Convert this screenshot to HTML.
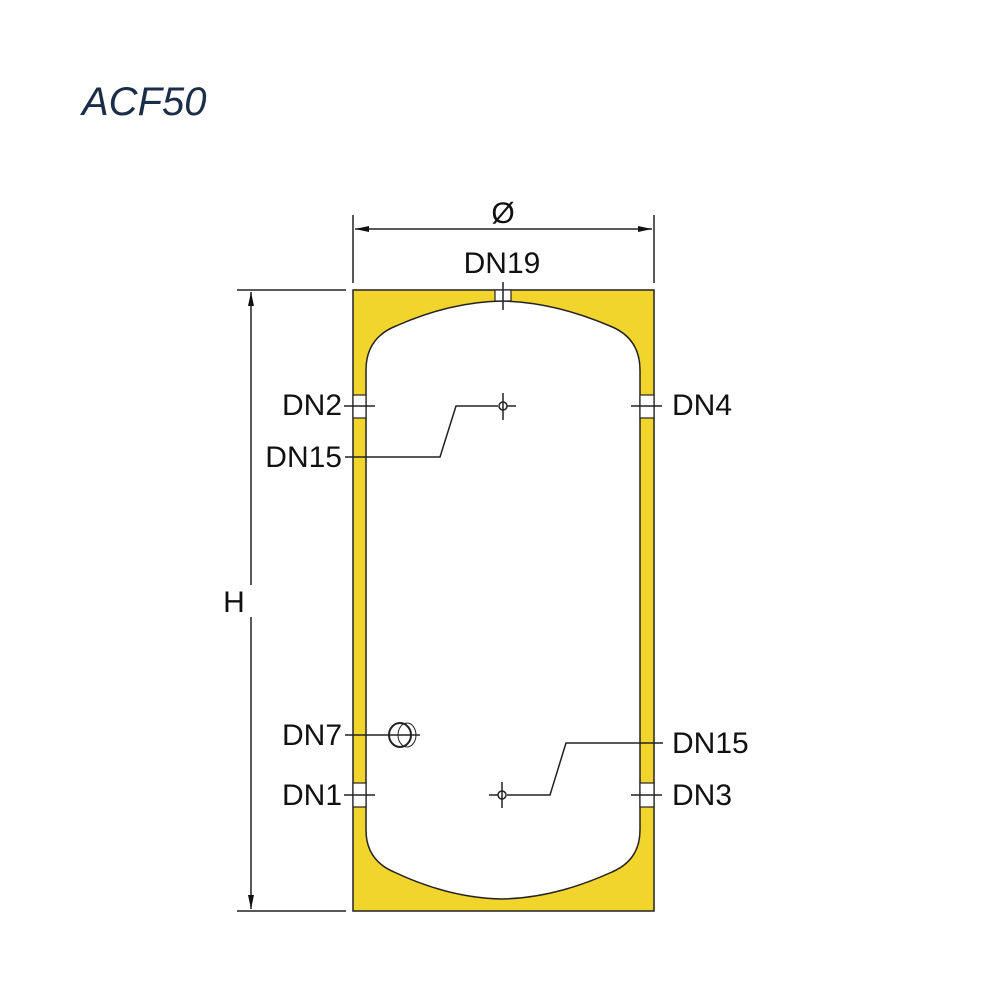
<!DOCTYPE html>
<html><head><meta charset="utf-8"><style>html,body{margin:0;padding:0;background:#fff}svg{display:block}</style></head>
<body>
<svg width="1000" height="1000" viewBox="0 0 1000 1000" xmlns="http://www.w3.org/2000/svg">
<defs>
<marker id="a" viewBox="0 0 14 6" refX="14" refY="3" markerWidth="14" markerHeight="6" markerUnits="userSpaceOnUse" orient="auto-start-reverse" preserveAspectRatio="none"><path d="M0,0 L14,3 L0,6 Z" fill="#111"/></marker>
</defs>
<text x="82" y="115" font-family="Liberation Sans, sans-serif" font-style="italic" font-size="40" fill="#1b2d48">ACF50</text>
<g stroke="#222" stroke-width="1.5" fill="none">
<line x1="353" y1="215" x2="353" y2="283"/>
<line x1="654" y1="215" x2="654" y2="283"/>
<line x1="355" y1="229" x2="652" y2="229" marker-start="url(#a)" marker-end="url(#a)"/>
<line x1="237" y1="290" x2="346" y2="290"/>
<line x1="237" y1="911" x2="346" y2="911"/>
<line x1="251" y1="292" x2="251" y2="585" marker-start="url(#a)"/>
<line x1="251" y1="617" x2="251" y2="909" marker-end="url(#a)"/>
</g>
<g font-family="Liberation Sans, sans-serif" font-size="30" fill="#111">
<text x="503" y="223" text-anchor="middle">Ø</text>
<text x="502" y="273" text-anchor="middle">DN19</text>
<text x="234" y="612" text-anchor="middle">H</text>
<text x="342" y="415" text-anchor="end">DN2</text>
<text x="342" y="467" text-anchor="end">DN15</text>
<text x="342" y="745" text-anchor="end">DN7</text>
<text x="342" y="805" text-anchor="end">DN1</text>
<text x="672" y="415">DN4</text>
<text x="672" y="753">DN15</text>
<text x="672" y="805">DN3</text>
</g>
<rect x="353" y="290" width="301" height="621" fill="#f1d52c" stroke="#222" stroke-width="1.5"/>
<path d="M366,370 Q366,338 396,326 Q450,302 502,301 Q554,302 610,326 Q640,338 640,370 V830 Q640,860 612,872 Q555,898 502,899 Q449,898 394,872 Q366,860 366,830 Z" fill="#fff" stroke="#222" stroke-width="1.5"/>
<g fill="#fff" stroke="#222" stroke-width="1.2">
<rect x="495" y="290" width="16" height="11"/>
<rect x="353" y="395" width="13" height="23"/>
<rect x="640" y="395" width="14" height="23"/>
<rect x="353" y="783" width="13" height="24"/>
<rect x="640" y="783" width="14" height="24"/>
</g>
<g stroke="#222" stroke-width="1.5" fill="none">
<line x1="503" y1="282" x2="503" y2="310"/>
<line x1="344" y1="406" x2="375" y2="406"/>
<line x1="631" y1="406" x2="662" y2="406"/>
<line x1="344" y1="795" x2="375" y2="795"/>
<line x1="631" y1="795" x2="662" y2="795"/>
<polyline points="345,457 440,457 456,406 498,406"/>
<circle cx="503" cy="406" r="4"/>
<line x1="503" y1="393" x2="503" y2="420"/>
<line x1="507" y1="406" x2="516" y2="406"/>
<polyline points="663,743 566,743 550,795 507,795"/>
<circle cx="502" cy="795" r="4"/>
<line x1="502" y1="782" x2="502" y2="808"/>
<line x1="489" y1="795" x2="498" y2="795"/>
<line x1="345" y1="735" x2="420" y2="735"/>
<ellipse cx="400" cy="735" rx="11" ry="12" stroke-width="2"/>
<ellipse cx="407" cy="735" rx="9" ry="12" stroke-width="1"/>
</g>
</svg>
</body></html>
